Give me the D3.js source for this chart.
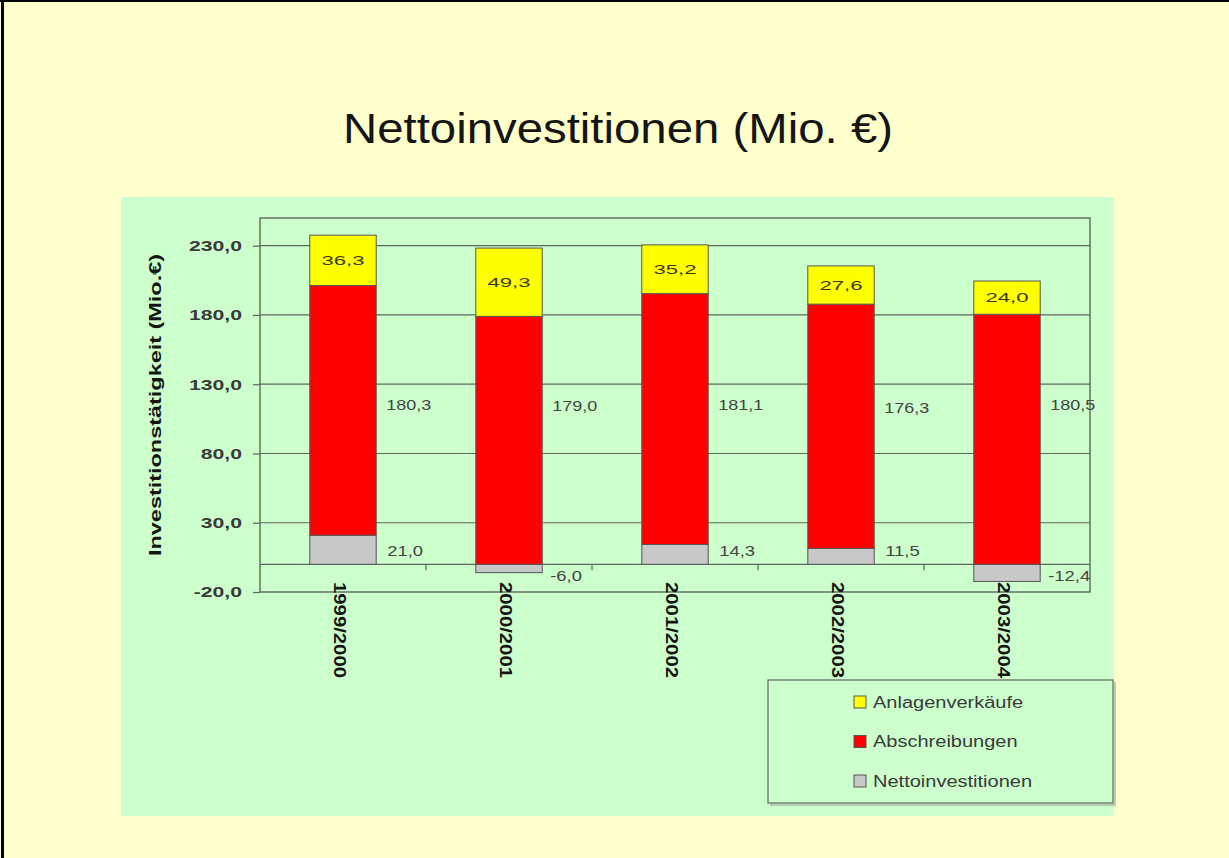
<!DOCTYPE html>
<html>
<head>
<meta charset="utf-8">
<script src="https://cdn.jsdelivr.net/npm/d3@7"></script>
<style>
  html, body { margin: 0; padding: 0; background: #ffffcc; }
  svg { display: block; font-family: "Liberation Sans", Arial, sans-serif; }
</style>
</head>
<body>
<svg id="chart"></svg>
<script>
// chart values
var categories = ["1999/2000", "2000/2001", "2001/2002", "2002/2003", "2003/2004"];
var nettoinvestitionen = [21.0, -6.0, 14.3, 11.5, -12.4];
var abschreibungen = [180.3, 179.0, 181.1, 176.3, 180.5];
var anlagenverkaeufe = [36.3, 49.3, 35.2, 27.6, 24.0];
var legendNames = ["Anlagenverkäufe", "Abschreibungen", "Nettoinvestitionen"];
var yTicks = [-20, 30, 80, 130, 180, 230];
var yDomain = [-20, 250];

var width = 1229;
var height = 858;

var svg = d3.select("#chart")
  .attr("width", width)
  .attr("height", height);

// german number format, 1 decimal
var de = d3.formatLocale({ decimal: ",", thousands: ".", grouping: [3], currency: ["", " €"], minus: "-" });
var fmt = de.format(".1f");

// stretch text so the widest one hits the target width
function fitWidth(sel, target) {
  var maxW = 0;
  sel.each(function() { maxW = Math.max(maxW, this.getComputedTextLength()); });
  var k = target / maxW;
  sel.each(function() {
    var w = this.getComputedTextLength();
    d3.select(this).attr("textLength", w * k).attr("lengthAdjust", "spacingAndGlyphs");
  });
}

// page background + black border left/top
svg.append("rect").attr("width", width).attr("height", height).attr("fill", "#ffffcc");
svg.append("rect").attr("x", 1).attr("y", 0).attr("width", 3).attr("height", height).attr("fill", "#000");
svg.append("rect").attr("x", 0).attr("y", 0).attr("width", width).attr("height", 2).attr("fill", "#000");

// green chart panel
svg.append("rect")
  .attr("x", 121).attr("y", 197)
  .attr("width", 993).attr("height", 619)
  .attr("fill", "#ccffcc");

// title
var title = svg.append("text")
  .attr("x", 618).attr("y", 143)
  .attr("text-anchor", "middle")
  .attr("font-size", 42)
  .attr("fill", "#151515")
  .text("Nettoinvestitionen (Mio. €)");
fitWidth(title, 550);

// plot area
var plot = { left: 260, right: 1090, top: 218, bottom: 592 };

var x = d3.scaleBand()
  .domain(categories)
  .range([plot.left, plot.right])
  .paddingInner(0.6)
  .paddingOuter(0.3);

var y = d3.scaleLinear()
  .domain(yDomain)
  .range([plot.bottom, plot.top]);

var rows = categories.map(function(c, i) {
  return { cat: c, netto: nettoinvestitionen[i], abschr: abschreibungen[i], anlagen: anlagenverkaeufe[i] };
});

var keys = ["netto", "abschr", "anlagen"];
var colors = { netto: "#c8c8c8", abschr: "#ff0000", anlagen: "#ffff00" };

var stacked = d3.stack()
  .keys(keys)
  .offset(d3.stackOffsetDiverging)(rows);

var lineColor = "#5f655f";

// gridlines
svg.append("g")
  .selectAll("line")
  .data(yTicks.filter(function(t) { return t > yDomain[0]; }))
  .enter()
  .append("line")
  .attr("x1", plot.left).attr("x2", plot.right)
  .attr("y1", function(d) { return y(d); })
  .attr("y2", function(d) { return y(d); })
  .attr("stroke", lineColor)
  .attr("stroke-width", 1.2);

// plot border
svg.append("rect")
  .attr("x", plot.left).attr("y", plot.top)
  .attr("width", plot.right - plot.left)
  .attr("height", plot.bottom - plot.top)
  .attr("fill", "none")
  .attr("stroke", lineColor)
  .attr("stroke-width", 1.4);

// zero line with category separators
svg.append("line")
  .attr("x1", plot.left).attr("x2", plot.right)
  .attr("y1", y(0)).attr("y2", y(0))
  .attr("stroke", lineColor)
  .attr("stroke-width", 1.2);

svg.append("g")
  .selectAll("line")
  .data(categories.slice(1))
  .enter()
  .append("line")
  .attr("x1", function(d) { return x(d) - x.step() * x.paddingInner() / 2; })
  .attr("x2", function(d) { return x(d) - x.step() * x.paddingInner() / 2; })
  .attr("y1", y(0)).attr("y2", y(0) + 6)
  .attr("stroke", lineColor)
  .attr("stroke-width", 1.2);

// stacked bars
svg.append("g")
  .selectAll("g")
  .data(stacked)
  .enter()
  .append("g")
  .attr("fill", function(s) { return colors[s.key]; })
  .selectAll("rect")
  .data(function(s) { return s; })
  .enter()
  .append("rect")
  .attr("x", function(d) { return x(d.data.cat); })
  .attr("width", x.bandwidth())
  .attr("y", function(d) { return y(Math.max(d[0], d[1])); })
  .attr("height", function(d) { return Math.abs(y(d[0]) - y(d[1])); })
  .attr("stroke", "#555")
  .attr("stroke-width", 1);

// value labels
var labelColor = "#444";

// yellow: centred in the segment
var lblYellow = svg.append("g")
  .selectAll("text")
  .data(stacked[2])
  .enter()
  .append("text")
  .attr("x", function(d) { return x(d.data.cat) + x.bandwidth() / 2; })
  .attr("y", function(d) { return y((d[0] + d[1]) / 2); })
  .attr("dy", "0.35em")
  .attr("text-anchor", "middle")
  .attr("font-size", 13)
  .attr("fill", "#3a3a10")
  .text(function(d) { return fmt(d.data.anlagen); });
fitWidth(lblYellow, 43);

// red: right of the bar
var lblRed = svg.append("g")
  .selectAll("text")
  .data(rows)
  .enter()
  .append("text")
  .attr("x", function(d) { return x(d.cat) + x.bandwidth() + 10; })
  .attr("y", function(d) { return y(d.abschr / 2) - 34; })
  .attr("dy", "0.35em")
  .attr("font-size", 14)
  .attr("fill", labelColor)
  .text(function(d) { return fmt(d.abschr); });
fitWidth(lblRed, 45);

// grey: right of the bar, near the zero line
var lblGrey = svg.append("g")
  .selectAll("text")
  .data(rows)
  .enter()
  .append("text")
  .attr("x", function(d) { return x(d.cat) + x.bandwidth() + (d.netto < 0 ? 8 : 11); })
  .attr("y", function(d) { return d.netto < 0 ? y(0) + 12 : y(0) - 13; })
  .attr("dy", "0.35em")
  .attr("font-size", 14)
  .attr("fill", labelColor)
  .text(function(d) { return fmt(d.netto); });
fitWidth(lblGrey, 42);

// y axis
var yAxis = svg.append("g")
  .attr("transform", "translate(" + plot.left + ",0)")
  .call(d3.axisLeft(y).tickValues(yTicks).tickSize(7).tickPadding(11).tickFormat(fmt));

yAxis.select(".domain").remove();
yAxis.selectAll(".tick line").attr("stroke", lineColor).attr("stroke-width", 1.2);
yAxis.selectAll(".tick text")
  .attr("font-family", "Liberation Sans, Arial, sans-serif")
  .attr("font-size", 15)
  .attr("font-weight", "bold")
  .attr("fill", "#3a3a3a");
fitWidth(yAxis.selectAll(".tick text"), 53);

// y axis title
var yTitle = svg.append("text")
  .attr("transform", "translate(161," + ((plot.top + plot.bottom) / 2) + ") rotate(-90)")
  .attr("text-anchor", "middle")
  .attr("font-size", 16)
  .attr("font-weight", "bold")
  .attr("fill", "#151515")
  .text("Investitionstätigkeit (Mio.€)");
fitWidth(yTitle, 302);

// category labels, rotated
var xLabels = svg.append("g")
  .selectAll("text")
  .data(categories)
  .enter()
  .append("text")
  .attr("transform", function(d) {
    return "translate(" + (x(d) + x.bandwidth() / 2 - 3) + ",582) rotate(90)";
  })
  .attr("dy", "0.35em")
  .attr("font-size", 17)
  .attr("font-weight", "bold")
  .attr("fill", "#151515")
  .text(function(d) { return d; });
fitWidth(xLabels, 96);

// legend
var legend = svg.append("g");

// soft shadow on the right and bottom edge
legend.append("path")
  .attr("d", "M1115,682 V805 H770")
  .attr("fill", "none")
  .attr("stroke", "#a8bca8")
  .attr("stroke-width", 1.5);

legend.append("rect")
  .attr("x", 768).attr("y", 680)
  .attr("width", 345).attr("height", 123)
  .attr("fill", "none")
  .attr("stroke", lineColor)
  .attr("stroke-width", 1.2);

var legendKeys = ["anlagen", "abschr", "netto"];

var item = legend.selectAll(".item")
  .data(legendNames)
  .enter()
  .append("g")
  .attr("transform", function(d, i) { return "translate(854," + (702 + i * 39.5) + ")"; });

item.append("rect")
  .attr("x", 0).attr("y", -6)
  .attr("width", 12).attr("height", 12)
  .attr("fill", function(d, i) { return colors[legendKeys[i]]; })
  .attr("stroke", "#555")
  .attr("stroke-width", 1);

var legendText = item.append("text")
  .attr("x", 19)
  .attr("dy", "0.35em")
  .attr("font-size", 16)
  .attr("fill", "#3a3a3a")
  .text(function(d) { return d; });
fitWidth(legendText, 159);
</script>
</body>
</html>
